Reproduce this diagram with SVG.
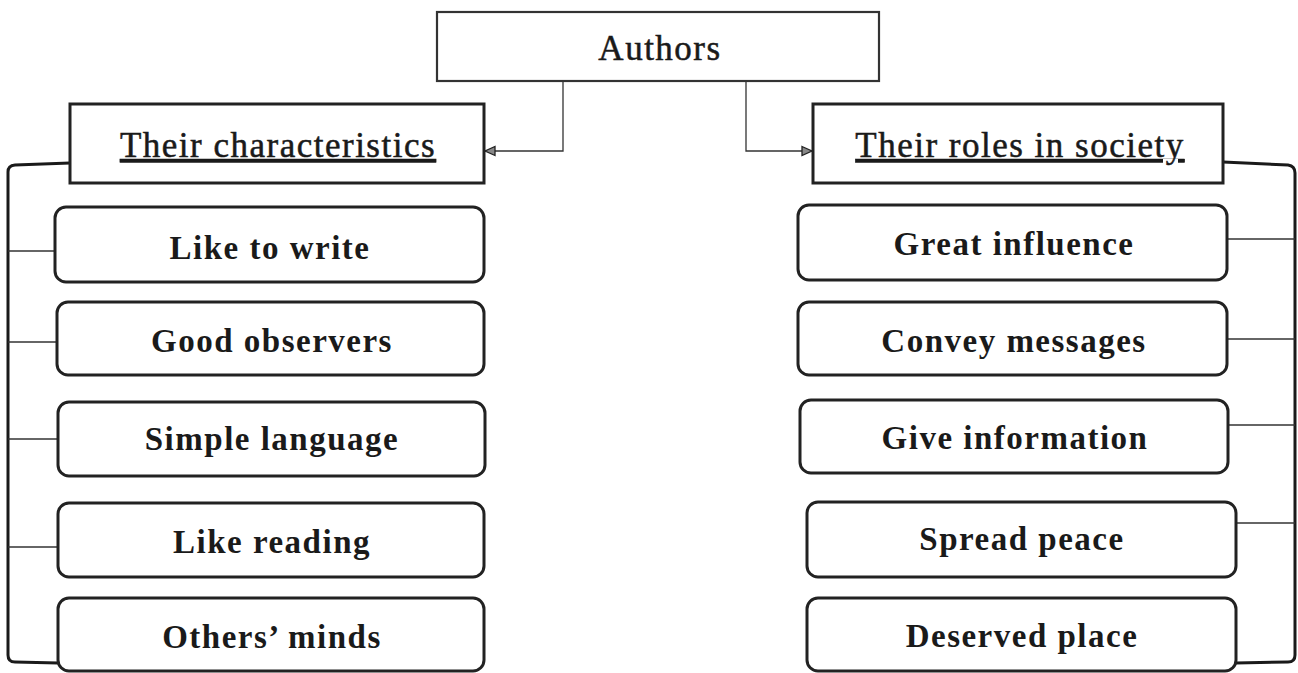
<svg xmlns="http://www.w3.org/2000/svg" width="1298" height="673" viewBox="0 0 1298 673">
<style>
  .bg { fill: #ffffff; }
  .hbox { fill: #ffffff; stroke: #222; stroke-width: 3; }
  .abox { fill: #ffffff; stroke: #333; stroke-width: 2.2; }
  .rbox { fill: #ffffff; stroke: #222; stroke-width: 3; }
  .htxt { font-family: "Liberation Serif", "Times New Roman", serif; font-size: 35px; letter-spacing: 1.5px; fill: #1a1a1a; stroke: #1a1a1a; stroke-width: 0.5; text-anchor: middle; }
  .ul { text-decoration: underline; }
  .btxt { font-family: "Liberation Serif", "Times New Roman", serif; font-size: 33px; font-weight: bold; letter-spacing: 1.5px; fill: #1a1a1a; text-anchor: middle; }
  .thin { fill: none; stroke: #333; stroke-width: 1.3; }
  .brk { fill: none; stroke: #1a1a1a; stroke-width: 3; stroke-linejoin: round; }
</style>
<defs>
  <marker id="arr" viewBox="0 0 12 12" refX="11" refY="6" markerWidth="12" markerHeight="12" markerUnits="userSpaceOnUse" orient="auto">
    <path d="M1,1.5 L11,6 L1,10.5 Z" fill="#888" stroke="#222" stroke-width="1.3"/>
  </marker>
</defs>
<rect class="bg" x="0" y="0" width="1298" height="673"/>

<g id="connectors">
  <path class="thin" d="M563,81 V151 H485" marker-end="url(#arr)"/>
  <path class="thin" d="M746,81 V151 H812" marker-end="url(#arr)"/>
  <path class="brk" d="M70,163 L15,165 Q8,165.5 8,172 V655 Q8,662 15,662 L58,663"/>
  <path class="brk" d="M1223,162 L1288,165 Q1295,166 1295,173 V655 Q1295,662 1288,662 L1236,663"/>
  <path class="thin" d="M8,251 H55"/>
  <path class="thin" d="M8,342 H57"/>
  <path class="thin" d="M8,439 H58"/>
  <path class="thin" d="M8,547 H58"/>
  <path class="thin" d="M1227,239 H1295"/>
  <path class="thin" d="M1227,339 H1295"/>
  <path class="thin" d="M1228,425 H1295"/>
  <path class="thin" d="M1236,523 H1295"/>
</g>

<g id="authors">
  <rect class="abox" x="437" y="12" width="442" height="69"/>
  <text class="htxt" x="660" y="60">Authors</text>
</g>

<g id="characteristics">
  <rect class="hbox" x="70" y="104" width="414" height="79"/>
  <text class="htxt ul" x="278" y="157">Their characteristics</text>
</g>

<g id="roles">
  <rect class="hbox" x="813" y="104" width="410" height="79"/>
  <text class="htxt ul" x="1020" y="157">Their roles in society</text>
</g>

<g id="like-to-write">
  <rect class="rbox" x="55" y="207" width="429" height="75" rx="11"/>
  <text class="btxt" x="270" y="259">Like to write</text>
</g>
<g id="good-observers">
  <rect class="rbox" x="57" y="302" width="427" height="73" rx="11"/>
  <text class="btxt" x="272" y="352">Good observers</text>
</g>
<g id="simple-language">
  <rect class="rbox" x="58" y="402" width="427" height="74" rx="11"/>
  <text class="btxt" x="272" y="450">Simple language</text>
</g>
<g id="like-reading">
  <rect class="rbox" x="58" y="503" width="426" height="74" rx="11"/>
  <text class="btxt" x="272" y="553">Like reading</text>
</g>
<g id="others-minds">
  <rect class="rbox" x="58" y="598" width="426" height="73" rx="11"/>
  <text class="btxt" x="272" y="648">Others’ minds</text>
</g>

<g id="great-influence">
  <rect class="rbox" x="798" y="205" width="429" height="75" rx="11"/>
  <text class="btxt" x="1014" y="255">Great influence</text>
</g>
<g id="convey-messages">
  <rect class="rbox" x="798" y="302" width="429" height="73" rx="11"/>
  <text class="btxt" x="1014" y="352">Convey messages</text>
</g>
<g id="give-information">
  <rect class="rbox" x="800" y="400" width="428" height="73" rx="11"/>
  <text class="btxt" x="1015" y="449">Give information</text>
</g>
<g id="spread-peace">
  <rect class="rbox" x="807" y="502" width="429" height="75" rx="11"/>
  <text class="btxt" x="1022" y="550">Spread peace</text>
</g>
<g id="deserved-place">
  <rect class="rbox" x="807" y="598" width="429" height="73" rx="11"/>
  <text class="btxt" x="1022" y="647">Deserved place</text>
</g>
</svg>
